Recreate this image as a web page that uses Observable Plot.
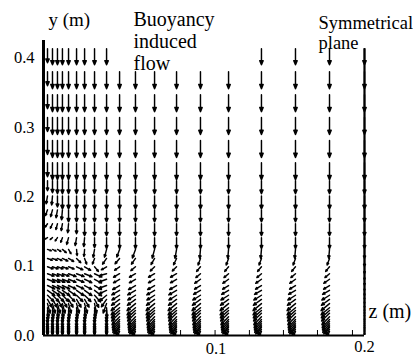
<!DOCTYPE html>
<html><head><meta charset="utf-8">
<script src="https://cdn.jsdelivr.net/npm/d3@7"></script>
<script src="https://cdn.jsdelivr.net/npm/@observablehq/plot@0.6"></script>
<style>
body{margin:0;background:#fff}
#chart svg, #chart svg *{font-family:"Liberation Serif",serif !important;}
</style>
</head><body><div id="chart"></div>
<script>
// column positions z (m) of the grid nodes
const colZ = [0.0025, 0.0056, 0.0087, 0.0118, 0.0156, 0.0206, 0.0256, 0.0318, 0.0393, 0.0474, 0.0573, 0.0692, 0.0829, 0.0978, 0.1153, 0.1358, 0.1570, 0.1782, 0.2000];
// row positions y (m) of the grid nodes
const rowY = [0.413, 0.380, 0.347, 0.314, 0.281, 0.249, 0.223, 0.201, 0.181, 0.161, 0.141, 0.124, 0.111, 0.099, 0.089, 0.081, 0.072, 0.065, 0.058, 0.052, 0.046, 0.040, 0.036, 0.032, 0.027, 0.023, 0.020, 0.017, 0.014, 0.012, 0.009, 0.006];
// flow direction (degrees clockwise from up), one row per rowY
const angle = [
[180,180,180,180,180,180,180,180,180,180,180,180,180,180,180,180,180,180,180],
[180,180,180,180,180,180,180,180,180,180,180,180,180,180,180,180,180,180,180],
[180,180,180,180,180,180,180,180,180,180,180,180,180,180,180,180,180,180,180],
[180,180,180,180,180,180,180,180,180,180,180,180,180,180,180,180,180,180,180],
[180,180,180,180,180,180,180,180,180,180,180,180,180,180,180,180,180,180,180],
[180,180,180,180,180,180,180,180,180,180,180,180,180,180,180,180,180,180,180],
[180,180,180,180,180,180,180,180,180,180,180,180,180,180,180,180,180,180,180],
[190,185,180,180,180,180,180,180,180,180,180,180,180,180,180,180,180,180,180],
[200,195,190,185,180,180,180,180,180,180,180,180,180,180,180,180,180,180,180],
[215,205,195,190,185,180,180,180,180,180,180,180,180,180,180,180,180,180,180],
[240,230,215,200,195,190,185,180,180,180,180,180,180,180,180,180,180,180,180],
[110,115,120,130,150,175,185,190,195,200,200,195,190,185,185,185,185,185,180],
[110,110,115,115,120,135,160,200,215,220,215,210,205,200,200,200,200,200,180],
[110,110,110,110,112,115,120,140,240,235,230,225,225,220,220,220,220,220,180],
[110,110,110,110,110,110,112,115,255,240,240,240,240,230,230,230,230,230,180],
[112,112,112,112,112,112,115,118,250,240,240,240,240,235,235,235,235,235,180],
[115,115,115,115,115,115,118,120,250,240,240,240,240,238,238,238,238,238,180],
[125,125,125,125,125,125,125,128,245,240,240,240,240,240,240,240,240,240,180],
[135,135,135,135,135,135,135,138,230,238,238,238,238,238,238,238,238,238,180],
[150,150,150,150,150,150,150,152,215,234,234,234,234,234,234,234,234,234,180],
[165,165,165,165,165,165,165,168,200,230,230,230,230,230,230,230,230,230,180],
[175,175,175,175,175,175,175,175,178,230,230,230,230,230,230,230,230,230,180],
[178,178,178,178,178,178,178,178,180,228,228,228,228,228,228,228,228,228,180],
[180,180,180,180,180,180,180,180,180,226,226,226,226,226,226,226,226,226,180],
[180,180,180,180,180,180,180,180,180,224,224,224,224,224,224,224,224,224,180],
[180,180,180,180,180,180,180,180,180,222,222,222,222,222,222,222,222,222,180],
[180,180,180,180,180,180,180,180,180,220,220,220,220,220,220,220,220,220,180],
[180,180,180,180,180,180,180,180,180,218,218,218,218,218,218,218,218,218,180],
[180,180,180,180,180,180,180,180,180,215,215,215,215,215,215,215,215,215,180],
[180,180,180,180,180,180,180,180,180,212,212,212,212,212,212,212,212,212,180],
[180,180,180,180,180,180,180,180,180,210,210,210,210,210,210,210,210,210,180],
[180,180,180,180,180,180,180,180,180,205,205,205,205,205,205,205,205,205,180]
];
// vector magnitude (arbitrary units), one row per rowY; 0 = not shown
const speed = [
[14,16,16,16,16,16,16,16,16,0,0,0,0,0,0,16,16,16,16],
[14,17,17,17,17,17,17,17,17,17,17,17,17,17,17,17,17,17,17],
[14,17,17,17,17,17,17,17,17,17,17,17,17,17,17,17,17,17,17],
[14,17,17,17,17,17,17,17,17,17,17,17,17,17,17,17,17,17,17],
[14,17,17,17,17,17,17,17,17,17,17,17,17,17,17,17,17,17,17],
[14,17,17,17,17,17,17,17,17,17,17,17,17,17,17,17,17,17,17],
[10,12,13,13,13,13,13,13,13,13,13,13,13,13,13,13,13,13,13],
[8,9,11,13,13,13,13,13,13,13,13,13,13,13,13,13,13,13,13],
[6,7,8,10,12,12,12,12,12,12,12,12,12,12,12,12,12,12,12],
[4,5,6,7,9,10,12,12,12,12,12,12,12,12,12,12,12,12,12],
[3,3,4,5,7,8,9,10,11,11,11,11,11,11,11,11,11,11,11],
[4,4,4,5,5,6,7,8,8,8,9,9,9,9,9,9,9,9,9],
[5,5,5,6,6,6,6,6,7,7,7,7,7,7,7,7,7,7,8],
[6,6,6,6,6,7,7,6,6,6,6,6,6,6,6,6,6,6,7],
[7,7,7,7,8,8,8,8,7,7,7,7,7,6,6,6,6,6,6],
[8,8,8,8,8,8,8,8,8,7,7,7,7,7,7,7,7,7,6],
[8,8,8,8,8,8,8,8,8,8,8,8,8,7,7,7,7,7,5],
[9,9,9,9,9,9,9,9,8,9,9,9,9,8,8,8,8,8,5],
[9,9,9,9,9,9,9,9,9,9,9,9,9,9,9,9,9,9,4],
[9,9,9,9,9,9,9,9,9,10,10,10,10,10,10,10,10,10,4],
[10,10,10,10,10,10,10,10,10,11,11,11,11,11,11,11,11,11,4],
[10,10,10,10,10,10,10,10,10,11,11,11,11,11,11,11,11,11,3],
[10,10,10,10,10,10,10,10,10,11,11,11,11,11,11,11,11,11,3],
[10,10,10,10,10,10,10,10,10,11,11,11,11,11,11,11,11,11,3],
[10,10,10,10,10,10,10,10,10,11,11,11,11,11,11,11,11,11,3],
[10,10,10,10,10,10,10,10,10,11,11,11,11,11,11,11,11,11,2],
[10,10,10,10,10,10,10,10,10,11,11,11,11,11,11,11,11,11,2],
[10,10,10,10,10,10,10,10,10,11,11,11,11,11,11,11,11,11,2],
[9,9,9,9,9,9,9,9,9,10,10,10,10,10,10,10,10,10,2],
[7,7,7,7,7,7,7,7,7,8,8,8,8,8,8,8,8,8,2],
[5,5,5,5,5,5,5,5,5,6,6,6,6,6,6,6,6,6,2],
[3,3,3,3,3,3,3,3,3,4,4,4,4,4,4,4,4,4,3]
];
const yTicks = [0, 0.1, 0.2, 0.3, 0.4];
const xTicks = [0.1, 0.2];
const xMinorTicks = [0.0854, 0.1069, 0.1283, 0.1495, 0.1707, 0.1925];
const symmetryZ = 0.2;
const labels = {y: "y (m)", z: "z (m)", flow: "Buoyancy\ninduced\nflow", plane: "Symmetrical\nplane"};

const vectors = [];
rowY.forEach((y, i) => colZ.forEach((z, j) => {
  if (speed[i][j] > 0) vectors.push({z, y, rotate: angle[i][j], speed: speed[i][j]});
}));

// arrow with a small filled head
const filledArrow = {
  draw(ctx, l) {
    const w = Math.min(1.7, l * 0.12), h = Math.min(4.2, l * 0.28);
    ctx.moveTo(0, 0);
    ctx.lineTo(0, -l);
    ctx.moveTo(-w, -l + h);
    ctx.lineTo(0, -l);
    ctx.lineTo(w, -l + h);
    ctx.closePath();
  }
};

const fmt = d3.format(".1f");
const serif = "Liberation Serif";

const chart = Plot.plot({
  width: 413, height: 357,
  marginLeft: 43, marginRight: 49, marginTop: 40, marginBottom: 22,
  style: {fontFamily: serif, fontSize: "16.5px", color: "#000", background: "#fff"},
  x: {domain: [0, 0.2]},
  y: {domain: [0, 0.425]},
  length: {domain: [0, 20], range: [0, 20]},
  marks: [
    Plot.vector(vectors, {x: "z", y: "y", length: "speed", rotate: "rotate", anchor: "start", shape: filledArrow, stroke: "#000", fill: "#000", strokeWidth: 1.45}),
    Plot.ruleX([symmetryZ], {y1: 0, y2: d3.max(rowY), stroke: "#000", strokeWidth: 2.2}),
    Plot.ruleX([0], {stroke: "#000", strokeWidth: 3}),
    Plot.ruleY([0], {stroke: "#000", strokeWidth: 2}),
    Plot.axisY(yTicks, {tickSize: 0, tickPadding: 9, fontSize: 16.5, tickFormat: fmt, label: null}),
    Plot.axisX([xTicks[0]], {tickSize: 0, tickPadding: 7, dx: 12, fontSize: 16.5, tickFormat: fmt, label: null}),
    Plot.axisX([xTicks[1]], {tickSize: 0, tickPadding: 5, fontSize: 16.5, tickFormat: fmt, label: null}),
    Plot.axisX(xMinorTicks, {tickSize: -5, tickFormat: () => "", label: null}),
    Plot.text([labels.y], {frameAnchor: "top-left", textAnchor: "start", lineAnchor: "top", dx: 5, dy: -28.5, fontSize: 19}),
    Plot.text([labels.flow], {frameAnchor: "top-left", textAnchor: "start", lineAnchor: "top", dx: 90, dy: -30.2, fontSize: 20, lineHeight: 1.1}),
    Plot.text([labels.plane], {frameAnchor: "top-left", textAnchor: "start", lineAnchor: "top", dx: 275, dy: -25.2, fontSize: 18.5, lineHeight: 1.08}),
    Plot.text([labels.z], {frameAnchor: "bottom-right", textAnchor: "start", lineAnchor: "top", dx: 4, dy: -32.2, fontSize: 20})
  ]
});
document.getElementById("chart").appendChild(chart);
</script>
</body></html>
